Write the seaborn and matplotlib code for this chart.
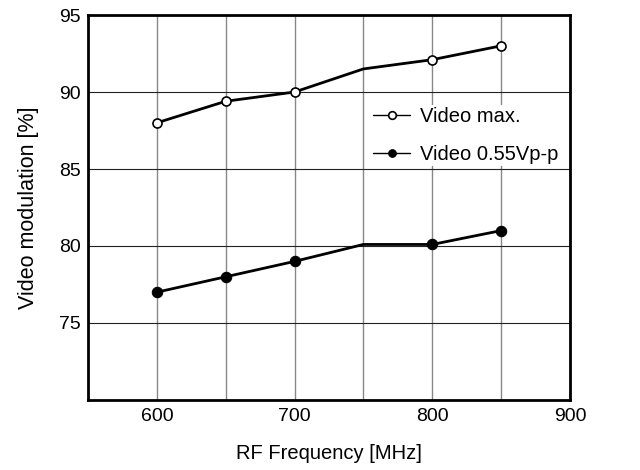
import matplotlib
matplotlib.use("Agg")
import matplotlib.pyplot as plt
import seaborn as sns
import pandas as pd

freq = [600, 650, 700, 750, 800, 850]
video_max = [88.0, 89.4, 90.0, 91.5, 92.1, 93.0]
video_055 = [77.0, 78.0, 79.0, 80.1, 80.1, 81.0]
marked = [0, 1, 2, 4, 5]  # no marker at 750 MHz

sns.set_style("white")
plt.rcParams["font.family"] = ["Liberation Sans", "DejaVu Sans"]
plt.rcParams["text.color"] = "black"
plt.rcParams["axes.labelcolor"] = "black"
plt.rcParams["xtick.color"] = "black"
plt.rcParams["ytick.color"] = "black"

df = pd.DataFrame({"freq": freq, "max": video_max, "p055": video_055})

fig = plt.figure(figsize=(6.4, 4.7), dpi=100)
ax = fig.add_axes([0.1375, 0.149, 0.753, 0.819])

sns.lineplot(data=df, x="freq", y="max", ax=ax, color="black", lw=2,
             marker="o", markersize=6.5, markerfacecolor="white",
             markeredgecolor="black", markeredgewidth=1.2,
             markevery=marked, label="Video max.")
sns.lineplot(data=df, x="freq", y="p055", ax=ax, color="black", lw=2,
             marker="o", markersize=7.5, markerfacecolor="black",
             markeredgecolor="black", markevery=marked,
             label="Video 0.55Vp-p")

ax.set_xlim(550, 900)
ax.set_ylim(70, 95)
ax.set_xticks([600, 700, 800, 900])
ax.set_xticks([650, 750, 850], minor=True)
ax.set_yticks([75, 80, 85, 90, 95])
ax.grid(True, which="both", axis="x", color="#888888", lw=1)
ax.grid(True, axis="y", color="#222222", lw=0.8)
ax.set_axisbelow(True)
ax.tick_params(axis="x", labelsize=14, length=0, pad=6)
ax.tick_params(axis="y", labelsize=14, length=0, pad=5)
ax.tick_params(which="minor", length=0)
for s in ax.spines.values():
    s.set_visible(True)
    s.set_color("black")
    s.set_linewidth(2)

ax.set_xlabel("RF Frequency [MHz]", fontsize=14.5)
ax.set_ylabel("Video modulation [%]", fontsize=15.5)
ax.xaxis.set_label_coords(0.5, -0.115)
ax.yaxis.set_label_coords(-0.102, 0.5)

leg = ax.legend(loc="upper left", bbox_to_anchor=(0.587, 0.766), fontsize=14.5,
                frameon=True, handlelength=1.85, borderaxespad=0, borderpad=0.1,
                labelspacing=0.95, handletextpad=0.5)
leg.get_frame().set_facecolor("white")
leg.get_frame().set_edgecolor("none")
leg.get_frame().set_alpha(1)
for h in leg.legend_handles:
    h.set_linewidth(1)
    h.set_markersize(5.5)

fig.savefig("out.png", dpi=100)
